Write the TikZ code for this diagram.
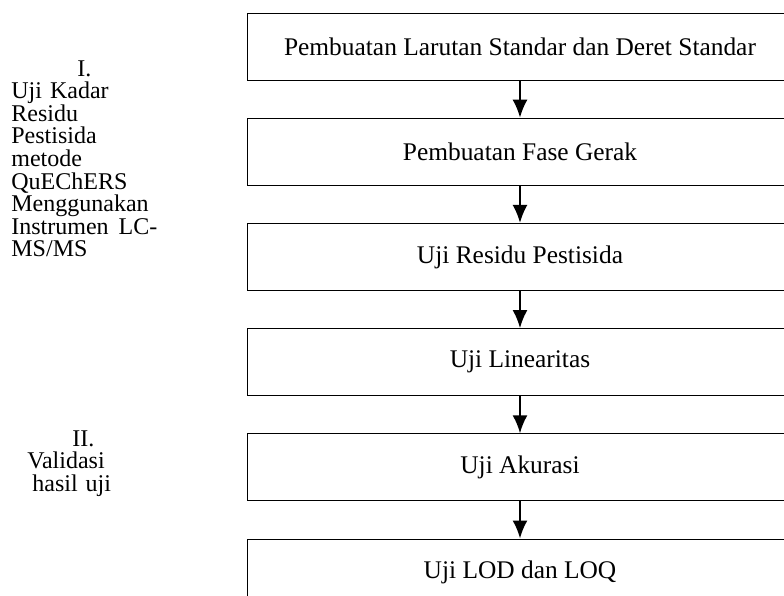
\documentclass[tikz,border=0pt]{standalone}
\usepackage{fontspec}
\setmainfont{Liberation Serif}
\usetikzlibrary{arrows.meta}
\usetikzlibrary{positioning}
\tikzset{> = {Latex[length=9pt,width=7.5pt]}}
\tikzset{stage/.style={draw, line width=0.5pt, minimum width=273pt, minimum height=33.5pt, inner sep=0pt, font=\fontsize{12.7}{14}\selectfont},
	side/.style={text width=73pt, inner sep=0pt, anchor=north west, font=\fontsize{12}{11.3}\selectfont}}

\begin{document}
\begin{tikzpicture}[x=0.5pt, y=-0.5pt, node distance=18.6pt]
		\useasboundingbox (0,0) rectangle (784,596);
		\clip (0,0) rectangle (784,596);
		% tahapan
		\node[stage] (larutan) at (520,46.5) {Pembuatan Larutan Standar dan Deret Standar};
		\node[stage, below=of larutan] (fase) {Pembuatan Fase Gerak};
		\node[stage, below=of fase] (residu) {Uji Residu Pestisida};
		\node[stage, below=of residu] (linear) {Uji Linearitas};
		\node[stage, below=of linear] (akurasi) {Uji Akurasi};
		\node[stage, below=of akurasi] (lodloq) {Uji LOD dan LOQ};
		\foreach \a/\b in {larutan/fase, fase/residu, residu/linear, linear/akurasi, akurasi/lodloq}
			\draw[->, line width=1pt] (\a) -- (\b);
		% keterangan kiri
		\node[side] (kadar) at (11,60) {{\centering I.\par}\raggedright Uji Kadar\\ Residu\\ Pestisida\\ metode\\ QuEChERS\\ Menggunakan\\ Instrumen\hfill LC-\\ MS/MS\par};
		\node[side, align=left] (validasi) at (27,430) {\hspace*{22.5pt}II.\\ Validasi\\ \hspace*{2.5pt}hasil uji};
		\end{tikzpicture}
\end{document}
